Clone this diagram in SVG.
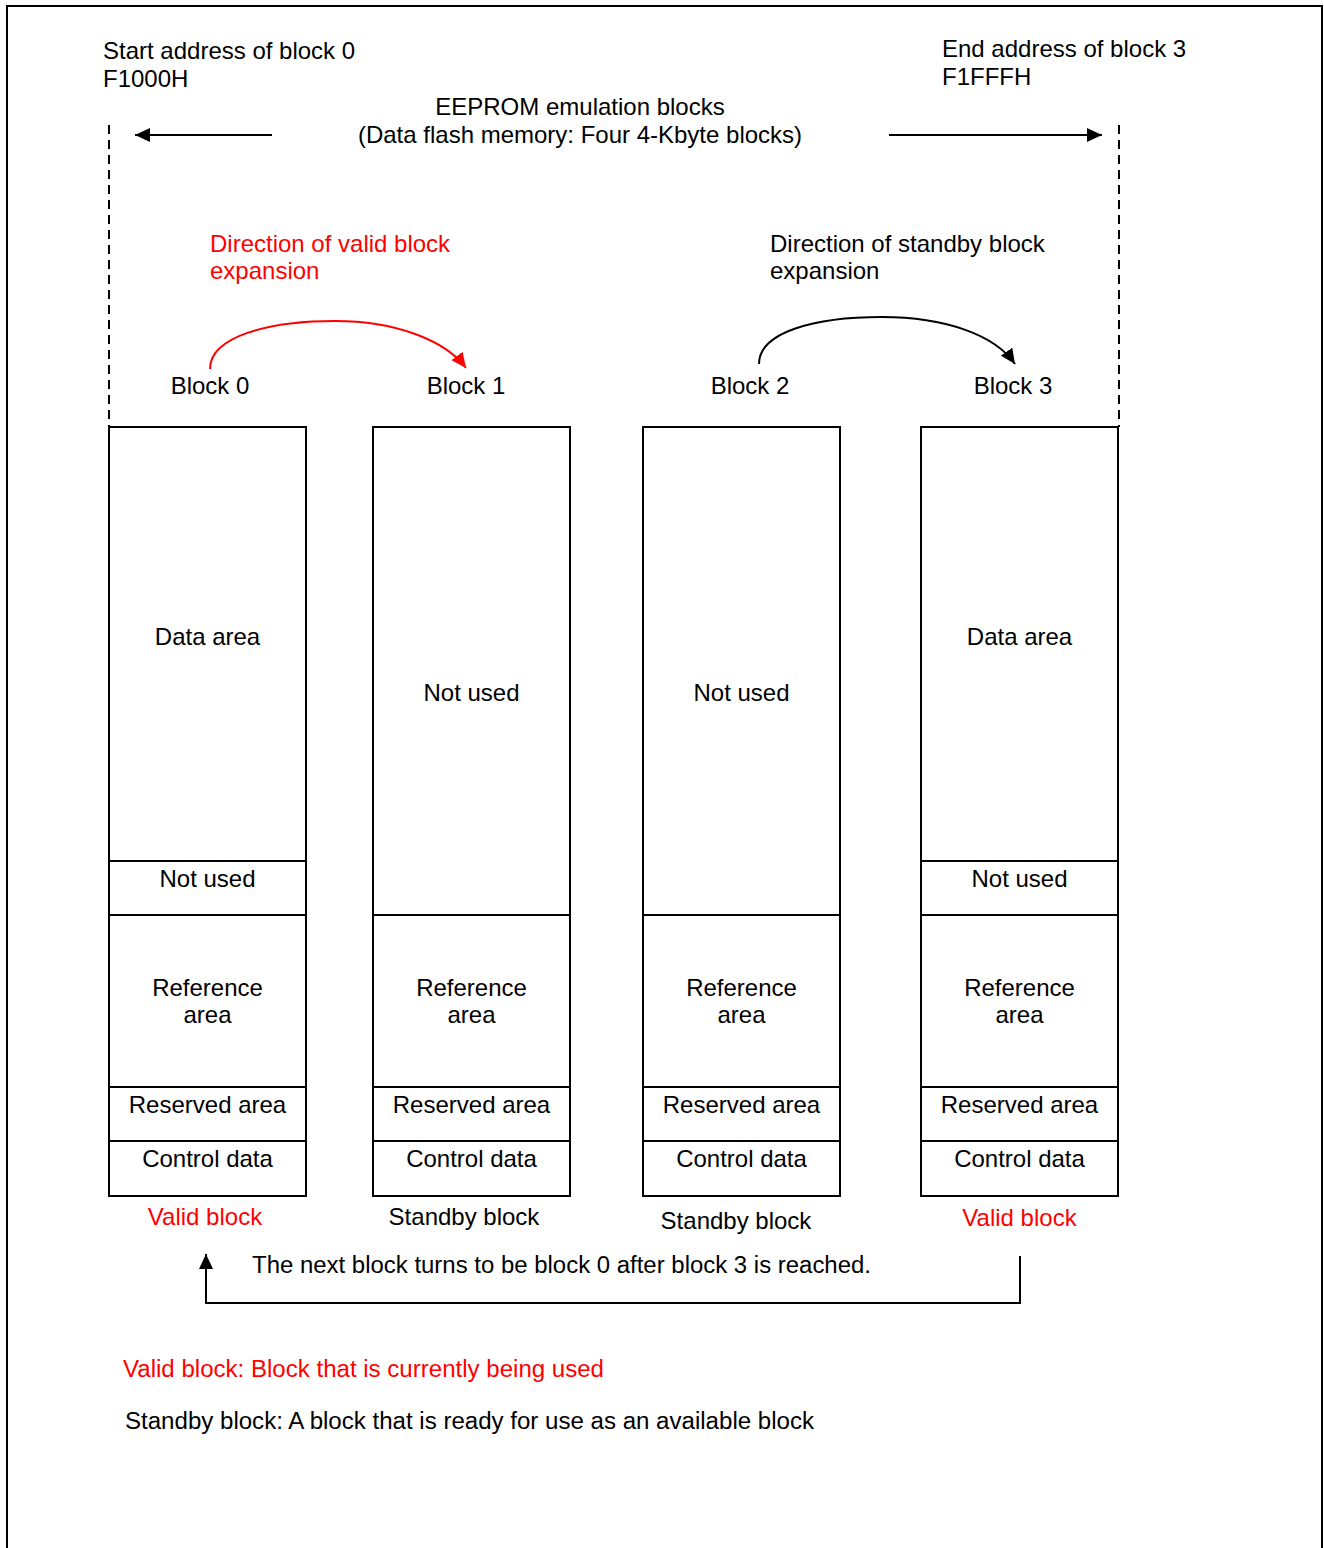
<svg xmlns="http://www.w3.org/2000/svg" width="1324" height="1548" viewBox="0 0 1324 1548">
<style>
text{font-family:"Liberation Sans",Arial,sans-serif;font-size:24px;fill:#000}
.red{fill:#ff0000}
.c{text-anchor:middle}
.box{fill:#fff;stroke:#000;stroke-width:2}
.ln{stroke:#000;stroke-width:2;fill:none}
.dash{stroke:#000;stroke-width:2;stroke-dasharray:9,6;fill:none}
.nar{font-size:23px}
</style>
<defs>
<marker id="ah" markerUnits="userSpaceOnUse" markerWidth="16" markerHeight="14" refX="15" refY="7" orient="auto"><path d="M0,0 L15,7 L0,14 z" fill="#000"/></marker>
<marker id="ahr" markerUnits="userSpaceOnUse" markerWidth="16" markerHeight="14" refX="15" refY="7" orient="auto"><path d="M0,0 L15,7 L0,14 z" fill="#ff0000"/></marker>
</defs>
<rect width="1324" height="1548" fill="#fff"/>
<path class="ln" d="M7,1548 V6 H1322 V1548"/>

<g id="labels-top">
<text x="103" y="59">Start address of block 0</text>
<text x="103" y="87">F1000H</text>
<text x="942" y="57">End address of block 3</text>
<text x="942" y="85">F1FFFH</text>
<text x="580" y="115" class="c">EEPROM emulation blocks</text>
<text x="580" y="143" class="c">(Data flash memory: Four 4-Kbyte blocks)</text>
<text x="210" y="252" class="red">Direction of valid block</text>
<text x="210" y="279" class="red">expansion</text>
<text x="770" y="252">Direction of standby block</text>
<text x="770" y="279">expansion</text>
</g>

<g id="connectors">
<path class="dash" d="M109,125 V427"/>
<path class="dash" d="M1119,125 V427"/>
<path class="ln" d="M272,135 H135" marker-end="url(#ah)"/>
<path class="ln" d="M889,135 H1102" marker-end="url(#ah)"/>
<path d="M210,369 C210,336 270,321 335,321 C395,321 445,340 466,368" fill="none" stroke="#ff0000" stroke-width="2" marker-end="url(#ahr)"/>
<path class="ln" d="M759,364 C759,332 815,317 882,317 C945,317 995,335 1015,364" marker-end="url(#ah)"/>
<path class="ln" d="M1020,1256 V1303 H206 V1254" marker-end="url(#ah)"/>
</g>

<g id="block0">
<text x="210" y="394" class="c">Block 0</text>
<rect class="box" x="109" y="427" width="197" height="769"/>
<path class="ln" d="M109,861 H306 M109,915 H306 M109,1087 H306 M109,1141 H306"/>
<text x="207.5" y="645" class="c">Data area</text>
<text x="207.5" y="887" class="c">Not used</text>
<text x="207.5" y="996" class="c">Reference</text>
<text x="207.5" y="1023" class="c">area</text>
<text x="207.5" y="1113" class="c">Reserved area</text>
<text x="207.5" y="1167" class="c">Control data</text>
<text x="205" y="1225" class="c red">Valid block</text>
</g>

<g id="block1">
<text x="466" y="394" class="c">Block 1</text>
<rect class="box" x="373" y="427" width="197" height="769"/>
<path class="ln" d="M373,915 H570 M373,1087 H570 M373,1141 H570"/>
<text x="471.5" y="701" class="c">Not used</text>
<text x="471.5" y="996" class="c">Reference</text>
<text x="471.5" y="1023" class="c">area</text>
<text x="471.5" y="1113" class="c">Reserved area</text>
<text x="471.5" y="1167" class="c">Control data</text>
<text x="464" y="1225" class="c">Standby block</text>
</g>

<g id="block2">
<text x="750" y="394" class="c">Block 2</text>
<rect class="box" x="643" y="427" width="197" height="769"/>
<path class="ln" d="M643,915 H840 M643,1087 H840 M643,1141 H840"/>
<text x="741.5" y="701" class="c">Not used</text>
<text x="741.5" y="996" class="c">Reference</text>
<text x="741.5" y="1023" class="c">area</text>
<text x="741.5" y="1113" class="c">Reserved area</text>
<text x="741.5" y="1167" class="c">Control data</text>
<text x="736" y="1229" class="c">Standby block</text>
</g>

<g id="block3">
<text x="1013" y="394" class="c">Block 3</text>
<rect class="box" x="921" y="427" width="197" height="769"/>
<path class="ln" d="M921,861 H1118 M921,915 H1118 M921,1087 H1118 M921,1141 H1118"/>
<text x="1019.5" y="645" class="c">Data area</text>
<text x="1019.5" y="887" class="c">Not used</text>
<text x="1019.5" y="996" class="c">Reference</text>
<text x="1019.5" y="1023" class="c">area</text>
<text x="1019.5" y="1113" class="c">Reserved area</text>
<text x="1019.5" y="1167" class="c">Control data</text>
<text x="1019.5" y="1226" class="c red">Valid block</text>
</g>

<g id="notes">
<text x="252" y="1273" class="nar" textLength="619" lengthAdjust="spacingAndGlyphs">The next block turns to be block 0 after block 3 is reached.</text>
<text x="123" y="1377" class="nar red" textLength="481" lengthAdjust="spacingAndGlyphs">Valid block: Block that is currently being used</text>
<text x="125" y="1429" class="nar" textLength="689" lengthAdjust="spacingAndGlyphs">Standby block: A block that is ready for use as an available block</text>
</g>
</svg>
